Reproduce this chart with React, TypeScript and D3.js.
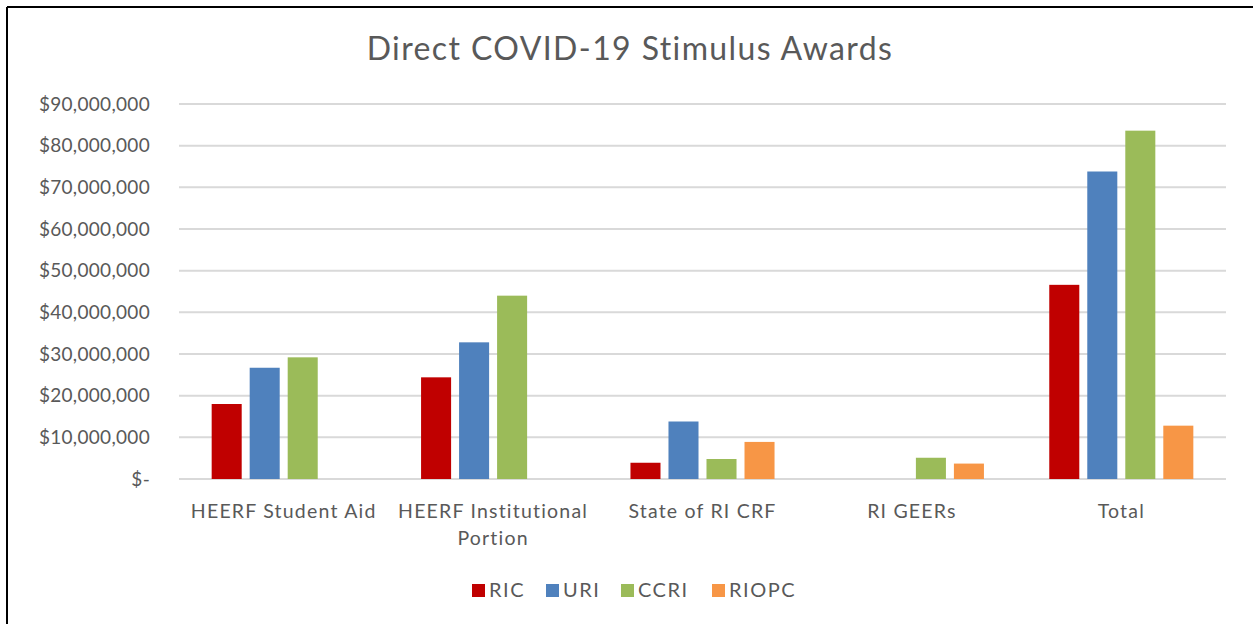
import React from 'react';
import * as d3 from 'd3';

// Chart data (values in dollars)
const categories = ['HEERF Student Aid', 'HEERF Institutional Portion', 'State of RI CRF', 'RI GEERs', 'Total'];
const seriesNames = ['RIC', 'URI', 'CCRI', 'RIOPC'];
const seriesColors = ['#C00000', '#4F81BD', '#9BBB59', '#F79646'];

const ricValues = [18000000, 24400000, 3900000, null, 46600000];
const uriValues = [26700000, 32800000, 13800000, null, 73800000];
const ccriValues = [29200000, 44000000, 4800000, 5100000, 83600000];
const riopcValues = [null, null, 8900000, 3700000, 12800000];

const yTicks = [0, 10000000, 20000000, 30000000, 40000000, 50000000, 60000000, 70000000, 80000000, 90000000];
const xLabelLines = [['HEERF Student Aid'], ['HEERF Institutional', 'Portion'], ['State of RI CRF'], ['RI GEERs'], ['Total']];

const seriesValues = [ricValues, uriValues, ccriValues, riopcValues];

const W = 1253;
const H = 624;
const plot = { left: 179, right: 1226, top: 104, bottom: 479 };
const FONT = 'Lato, "Open Sans", sans-serif';
const TEXT = '#595959';

const fmtMoney = (v: number) => (v === 0 ? '$-' : '$' + d3.format(',')(v));

export default function App() {
  const x0 = d3.scaleBand<string>()
    .domain(categories)
    .range([plot.left, plot.right])
    .paddingInner(0.312)
    .paddingOuter(0.156);

  const x1 = d3.scaleBand<string>()
    .domain(seriesNames)
    .range([0, x0.bandwidth()])
    .paddingInner(0.21);

  const y = d3.scaleLinear()
    .domain([0, 90000000])
    .range([plot.bottom, plot.top]);

  // legend layout
  const legendItems = [
    { name: 'RIC', x: 472 },
    { name: 'URI', x: 546 },
    { name: 'CCRI', x: 621 },
    { name: 'RIOPC', x: 712 },
  ];

  return (
    <svg
      width={W}
      height={H}
      style={{ position: 'absolute', left: 0, top: 0, background: '#fff' }}
      fontFamily={FONT}
    >
      <rect x={0} y={0} width={W} height={H} fill="#fff" />
      {/* outer frame (top and left edges visible) */}
      <line x1={7} y1={7} x2={W} y2={7} stroke="#000" strokeWidth={2} />
      <line x1={7} y1={7} x2={7} y2={H} stroke="#000" strokeWidth={2} />

      <text x={630} y={60} textAnchor="middle" fontSize={32} letterSpacing={1.4} fill={TEXT}>
        Direct COVID-19 Stimulus Awards
      </text>

      {/* gridlines + y labels */}
      {yTicks.map(t => (
        <g key={t}>
          <line x1={plot.left} x2={plot.right} y1={y(t)} y2={y(t)} stroke="#d9d9d9" strokeWidth={2} />
          <text x={150} y={y(t)} dy="0.35em" textAnchor="end" fontSize={19} letterSpacing={0.3} fill={TEXT}>
            {fmtMoney(t)}
          </text>
        </g>
      ))}

      {/* bars */}
      {categories.map((c, ci) => (
        <g key={c} transform={`translate(${x0(c)},0)`}>
          {seriesNames.map((s, si) => {
            const v = seriesValues[si][ci];
            if (v == null) return null;
            return (
              <rect
                key={s}
                x={x1(s)}
                y={y(v)}
                width={x1.bandwidth()}
                height={y(0) - y(v)}
                fill={seriesColors[si]}
              />
            );
          })}
        </g>
      ))}

      {/* x labels */}
      {categories.map((c, ci) => (
        <text
          key={c}
          x={(x0(c) ?? 0) + x0.bandwidth() / 2}
          y={518}
          textAnchor="middle"
          fontSize={19.5}
          letterSpacing={1.2}
          fill={TEXT}
        >
          {xLabelLines[ci].map((line, li) => (
            <tspan key={li} x={(x0(c) ?? 0) + x0.bandwidth() / 2} dy={li === 0 ? 0 : 27}>
              {line}
            </tspan>
          ))}
        </text>
      ))}

      {/* legend */}
      {legendItems.map((item, i) => (
        <g key={item.name}>
          <rect x={item.x} y={584} width={13} height={13} fill={seriesColors[i]} />
          <text x={item.x + 17} y={597} fontSize={20} letterSpacing={1.5} fill={TEXT}>
            {item.name}
          </text>
        </g>
      ))}
    </svg>
  );
}
